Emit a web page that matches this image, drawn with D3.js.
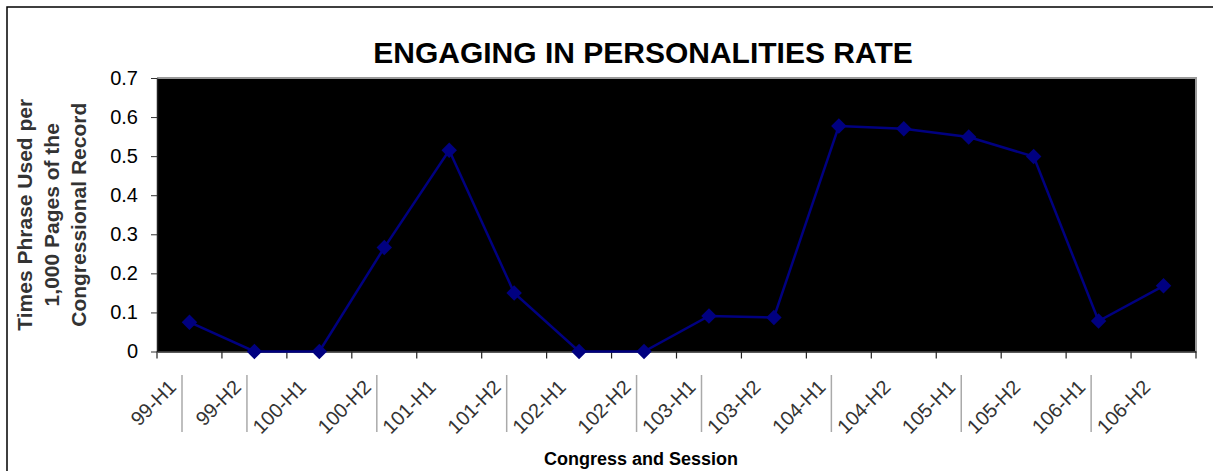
<!DOCTYPE html>
<html>
<head>
<meta charset="utf-8">
<script src="https://cdn.jsdelivr.net/npm/d3@7"></script>
<style>
  html, body { margin: 0; padding: 0; background: #fff; }
  svg { display: block; font-family: Arial, "Liberation Sans", sans-serif; }
</style>
</head>
<body>
<svg id="chart" width="1213" height="471"></svg>
<script>
"use strict";

const sessions = ["99-H1", "99-H2", "100-H1", "100-H2", "101-H1", "101-H2", "102-H1", "102-H2",
  "103-H1", "103-H2", "104-H1", "104-H2", "105-H1", "105-H2", "106-H1", "106-H2"];
const rates = [0.075, 0, 0, 0.266, 0.515, 0.150, 0, 0, 0.091, 0.087, 0.577, 0.570, 0.549, 0.499, 0.078, 0.168];
const yTicks = [0, 0.1, 0.2, 0.3, 0.4, 0.5, 0.6, 0.7];
const yTitleLines = ["Times Phrase Used per", "1,000 Pages of the", "Congressional Record"];
// label-box edges left over in the original picture (category boundary index)
const labelSeparators = [0, 1, 3, 5, 7, 8, 10, 12, 14];

const svg = d3.select("#chart");
const plot = { left: 157, right: 1196, top: 78, bottom: 351.5 };

// outer frame (only top and left are visible in the crop)
svg.append("rect")
  .attr("x", 7).attr("y", 7)
  .attr("width", 1300).attr("height", 600)
  .attr("fill", "none").attr("stroke", "#000").attr("stroke-width", 1.5);

svg.append("text")
  .attr("x", 643).attr("y", 63)
  .attr("text-anchor", "middle")
  .attr("font-size", 30).attr("font-weight", "bold")
  .text("ENGAGING IN PERSONALITIES RATE");

const x = d3.scaleBand().domain(sessions).range([plot.left, plot.right]);
const y = d3.scaleLinear().domain([0, 0.7]).range([plot.bottom, plot.top]);

// plot area
svg.append("rect")
  .attr("x", plot.left).attr("y", plot.top)
  .attr("width", plot.right - plot.left).attr("height", plot.bottom - plot.top)
  .attr("fill", "#000");
svg.append("path")
  .attr("d", `M${plot.left},${plot.top}H${plot.right}V${plot.bottom}`)
  .attr("fill", "none").attr("stroke", "#999").attr("stroke-width", 2);

// y axis
const yAxis = svg.append("g")
  .attr("transform", `translate(${plot.left},0)`)
  .call(d3.axisLeft(y).tickValues(yTicks).tickSize(6).tickSizeOuter(0)
    .tickFormat((d) => (d === 0 ? "0" : d3.format(".1f")(d))));
yAxis.select(".domain").attr("stroke", "#222").attr("stroke-width", 1.5);
yAxis.selectAll(".tick line").attr("stroke", "#333");
yAxis.selectAll(".tick text")
  .attr("font-size", 20).attr("font-family", "Arial, 'Liberation Sans', sans-serif")
  .attr("fill", "#000").attr("x", -19);

// x axis: labels at centres, ticks at boundaries
const xAxis = svg.append("g")
  .attr("transform", `translate(0,${plot.bottom})`)
  .call(d3.axisBottom(x).tickSize(0));
xAxis.select(".domain").attr("stroke", "#222").attr("stroke-width", 1.5);
xAxis.selectAll(".tick text")
  .attr("font-size", 20).attr("font-family", "Arial, 'Liberation Sans', sans-serif")
  .attr("fill", "#333")
  .attr("text-anchor", "end")
  .attr("dy", null).attr("y", null)
  .attr("transform", "translate(-12,37) rotate(-45)");

const boundaries = sessions.map((s) => x(s)).concat([plot.right]);
svg.append("g")
  .selectAll("line")
  .data(boundaries)
  .join("line")
  .attr("x1", (d) => d).attr("x2", (d) => d)
  .attr("y1", plot.bottom).attr("y2", plot.bottom + 7)
  .attr("stroke", "#222").attr("stroke-width", 1.2);

svg.append("g")
  .selectAll("line")
  .data(labelSeparators)
  .join("line")
  .attr("x1", (i) => boundaries[i] + 25).attr("x2", (i) => boundaries[i] + 25)
  .attr("y1", 375).attr("y2", 432)
  .attr("stroke", "#aaa").attr("stroke-width", 1.5);

// series
const cx = (d, i) => x(sessions[i]) + x.bandwidth() / 2;
svg.append("path")
  .datum(rates)
  .attr("d", d3.line().x(cx).y((d) => y(d)))
  .attr("fill", "none").attr("stroke", "#000080").attr("stroke-width", 2.5);

svg.append("g")
  .selectAll("path")
  .data(rates)
  .join("path")
  .attr("d", d3.symbol(d3.symbolSquare, 120)())
  .attr("transform", (d, i) => `translate(${cx(d, i)},${y(d)}) rotate(45)`)
  .attr("fill", "#000080");

// axis titles
svg.append("text")
  .attr("x", 641).attr("y", 465)
  .attr("text-anchor", "middle")
  .attr("font-size", 18).attr("font-weight", "bold")
  .text("Congress and Session");

const yTitle = svg.append("g")
  .attr("transform", `translate(32,${(plot.top + plot.bottom) / 2}) rotate(-90)`);
yTitle.selectAll("text")
  .data(yTitleLines)
  .join("text")
  .attr("x", 0).attr("y", (d, i) => i * 27)
  .attr("text-anchor", "middle")
  .attr("font-size", 21).attr("font-weight", "bold")
  .attr("fill", "#333")
  .text((d) => d);
</script>
</body>
</html>
